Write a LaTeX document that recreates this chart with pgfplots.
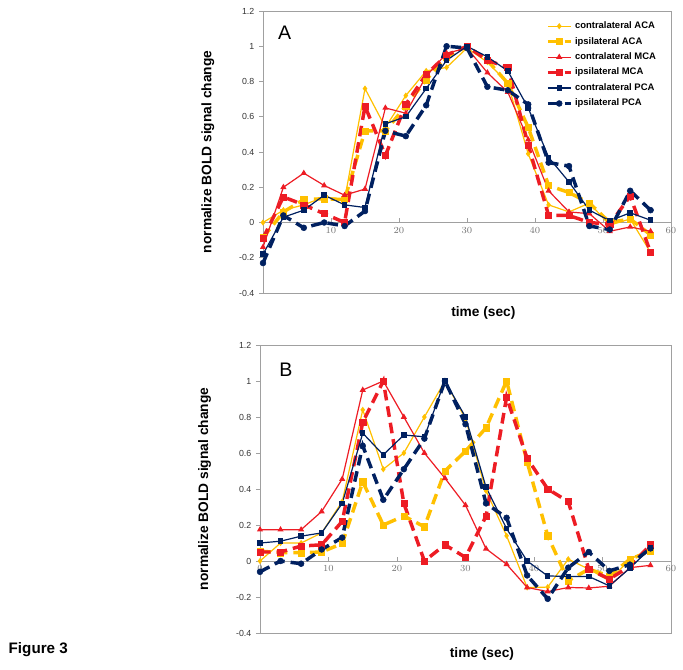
\documentclass[border=0pt]{standalone}
\usepackage{fontspec}
\setmainfont{Liberation Sans}
\newfontfamily\timesfont{Liberation Serif}
\usepackage{pgfplots}
\usepackage{pgfplotstable}
\pgfplotsset{compat=1.18}

\definecolor{aca}{RGB}{255,192,0}
\definecolor{mca}{RGB}{237,28,36}
\definecolor{pca}{RGB}{0,32,96}
\definecolor{frame}{RGB}{160,160,160}

% panel A, time in sec, normalised BOLD change
\pgfplotstableread{
t    cACA   iACA   cMCA   iMCA   cPCA   iPCA
0    0.00  -0.085 -0.14  -0.09  -0.18  -0.23
3    0.07   0.06   0.20   0.145  0.03   0.04
6    0.10   0.13   0.28   0.10   0.07  -0.03
9    0.145  0.135  0.21   0.05   0.155  0.00
12   0.13   0.13   0.155  0.00   0.10  -0.02
15   0.76   0.52   0.19   0.66   0.085  0.065
18   0.54   0.52   0.65   0.38   0.56   0.52
21   0.72   0.66   0.62   0.67   0.60   0.49
24   0.86   0.81   0.83   0.84   0.76   0.665
27   0.88   0.94   0.96   0.95   0.92   1.00
30   0.99   1.00   0.99   1.00   1.00   0.99
33   0.91   0.92   0.85   0.92   0.94   0.77
36   0.79   0.79   0.74   0.88   0.86   0.75
39   0.39   0.54   0.47   0.44   0.65   0.67
42   0.10   0.21   0.18   0.04   0.37   0.34
45   0.06   0.17   0.06   0.04   0.23   0.32
48   0.11   0.11   0.05   0.00   0.07  -0.02
51  -0.015  0.00  -0.05  -0.01   0.01  -0.04
54   0.02   0.02  -0.025  0.15   0.055  0.18
57  -0.17  -0.07  -0.05  -0.17   0.013  0.07
}\dataA

% panel B
\pgfplotstableread{
t    cACA   iACA   cMCA   iMCA   cPCA   iPCA
0    0.00   0.055  0.174  0.05   0.10  -0.06
3    0.10   0.046  0.174  0.05   0.11   0.00
6    0.10   0.046  0.174  0.083  0.138 -0.015
9    0.156  0.05   0.275  0.09   0.156  0.064
12   0.33   0.097  0.455  0.22   0.32   0.13
15   0.84   0.44   0.95   0.77   0.71   0.64
18   0.51   0.20   1.00   1.00   0.59   0.34
21   0.60   0.25   0.80   0.32   0.70   0.51
24   0.80   0.19   0.60   0.00   0.69   0.68
27   1.00   0.50   0.46   0.09   1.00   1.00
30   0.79   0.61   0.31   0.02   0.80   0.76
33   0.39   0.74   0.068  0.25   0.41   0.32
36   0.14   1.00  -0.018  0.91   0.18   0.24
39  -0.147  0.55  -0.147  0.57   0.00  -0.08
42  -0.145  0.14  -0.17   0.40  -0.083 -0.21
45   0.01  -0.11  -0.147  0.33  -0.086 -0.037
48  -0.045 -0.045 -0.15  -0.045 -0.086  0.05
51  -0.11  -0.083 -0.14  -0.10  -0.138 -0.055
54   0.01   0.01  -0.037 -0.03  -0.04  -0.02
57   0.065  0.055 -0.024  0.09   0.073  0.07
}\dataB

\pgfplotsset{
  panel/.style={
    scale only axis,
    xmin=0, xmax=60, ymin=-0.4, ymax=1.2,
    axis x line=middle, axis y line=left,
    axis line style={frame, -, line width=0.6pt},
    axis background/.style={draw=frame, line width=0.6pt},
    ytick={-0.4,-0.2,0,0.2,0.4,0.6,0.8,1,1.2},
    yticklabels={-0.4,-0.2,0,0.2,0.4,0.6,0.8,1,1.2},
    yticklabel style={font=\fontsize{6.6}{7}\selectfont, text=black!80},
    xticklabel style={font=\timesfont\fontsize{7}{8}\selectfont, text=black!55},
    ytick align=outside, xtick align=inside,
    major tick length=3pt,
    tick style={frame, line width=0.6pt},
    hide obscured x ticks=false,
    every axis y label/.style={at={(rel axis cs:-0.135,0.5)}, rotate=90, anchor=center,
        font=\bfseries\fontsize{10.3}{12}\selectfont},
    every axis x label/.style={at={(rel axis cs:0.54,-0.072)}, anchor=center,
        font=\bfseries\fontsize{10.3}{12}\selectfont},
    ylabel={normalize BOLD signal change},
    xlabel={time (sec)},
    clip=false,
  },
  cACA/.style={color=aca, line width=0.9pt, mark=diamond*, mark size=1.6pt},
  iACA/.style={color=aca, line width=2.6pt, dash pattern=on 8pt off 4.5pt, mark=square*, mark size=2.3pt, mark options={solid, line width=0.4pt}},
  cMCA/.style={color=mca, line width=0.9pt, mark=triangle*, mark size=1.8pt},
  iMCA/.style={color=mca, line width=2.6pt, dash pattern=on 8pt off 4.5pt, mark=square*, mark size=2.3pt, mark options={solid, line width=0.4pt}},
  cPCA/.style={color=pca, line width=0.9pt, mark=square*, mark size=1.6pt},
  iPCA/.style={color=pca, line width=2.6pt, dash pattern=on 8pt off 4.5pt, mark=*, mark size=2.2pt, mark options={solid, line width=0.4pt}},
}

\begin{document}
\begin{tikzpicture}
\useasboundingbox (0,0) rectangle (512.25pt,501.75pt);

% panel A
\begin{axis}[panel,
    at={(197.25pt,282pt)}, anchor=south west,
    width=306pt, height=211.5pt,
    xtick={10,20,30,40,50,60},
    legend style={draw=none, fill=none, at={(rel axis cs:0.69,0.977)}, anchor=north west,
        font=\bfseries\fontsize{7.1}{8}\selectfont, row sep=0.95pt, inner sep=1pt},
    legend cell align=left,
]
\addplot[cACA] table[x=t, y=cACA] {\dataA};
\addlegendentry{contralateral ACA}
\addplot[iACA] table[x=t, y=iACA] {\dataA};
\addlegendentry{ipsilateral ACA}
\addplot[cMCA] table[x=t, y=cMCA] {\dataA};
\addlegendentry{contralateral MCA}
\addplot[iMCA] table[x=t, y=iMCA] {\dataA};
\addlegendentry{ipsilateral MCA}
\addplot[cPCA] table[x=t, y=cPCA] {\dataA};
\addlegendentry{contralateral PCA}
\addplot[iPCA] table[x=t, y=iPCA] {\dataA};
\addlegendentry{ipsilateral PCA}
\node[font=\fontsize{14.7}{16}\selectfont] at (rel axis cs:0.053,0.922) {A};
\end{axis}

% panel B
\begin{axis}[panel,
    at={(195pt,27pt)}, anchor=south west,
    width=308.25pt, height=216pt,
    xtick={0,10,20,30,40,50,60},
]
\addplot[cACA] table[x=t, y=cACA] {\dataB};
\addplot[iACA] table[x=t, y=iACA] {\dataB};
\addplot[cMCA] table[x=t, y=cMCA] {\dataB};
\addplot[iMCA] table[x=t, y=iMCA] {\dataB};
\addplot[cPCA] table[x=t, y=cPCA] {\dataB};
\addplot[iPCA] table[x=t, y=iPCA] {\dataB};
\node[font=\fontsize{14.7}{16}\selectfont] at (rel axis cs:0.063,0.913) {B};
\end{axis}

\node[anchor=base west, font=\bfseries\fontsize{11.4}{13}\selectfont] at (3pt,12pt) {Figure 3};
\end{tikzpicture}
\end{document}
